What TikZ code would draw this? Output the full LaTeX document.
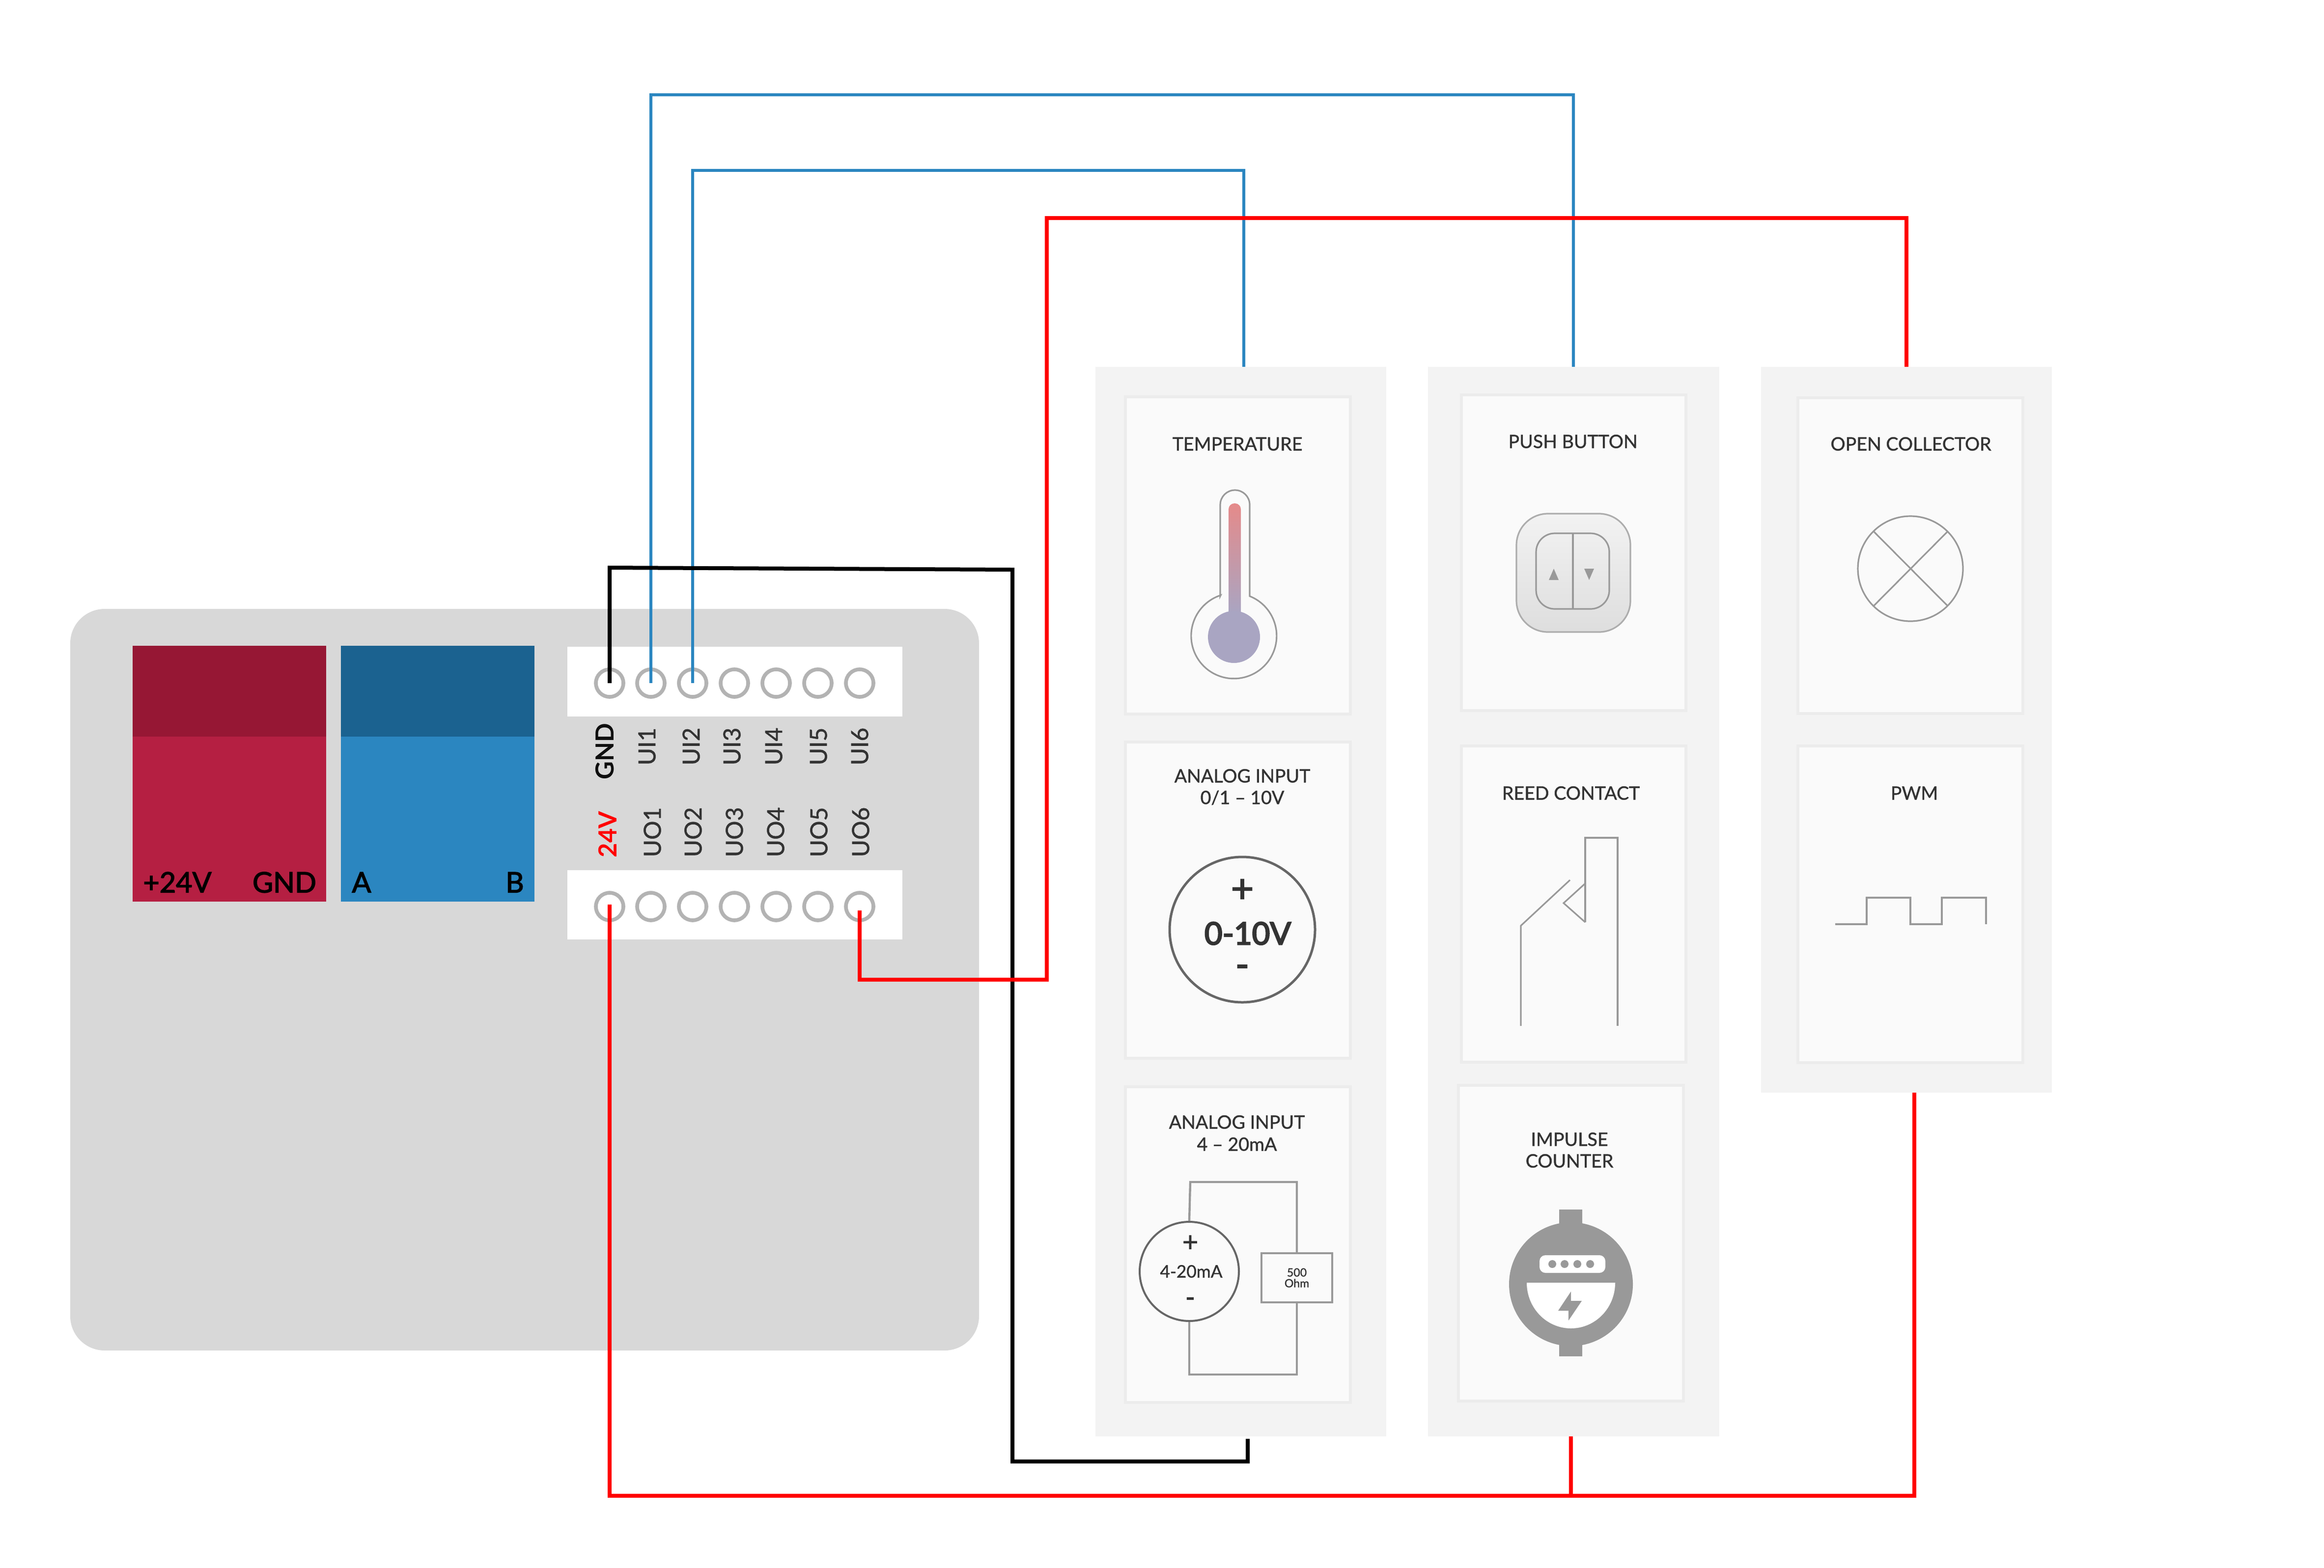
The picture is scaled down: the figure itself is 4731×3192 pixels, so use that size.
\documentclass[tikz,border=0pt]{standalone}
\usepackage{fontspec}
\setmainfont{Lato}
\newfontfamily\medf[FakeBold=1.1]{Lato}
\newfontfamily\hvyf[FakeBold=2.6]{Lato}
\newfontfamily\xhvyf[FakeBold=4]{Lato}
\definecolor{panelgray}{HTML}{D8D8D8}
\definecolor{colgray}{HTML}{F3F3F3}
\definecolor{cardfill}{HTML}{FAFAFA}
\definecolor{cardline}{HTML}{ECECEC}
\definecolor{reddark}{HTML}{961734}
\definecolor{redmain}{HTML}{B51F42}
\definecolor{bluedark}{HTML}{1B6290}
\definecolor{bluemain}{HTML}{2B86C0}
\definecolor{ringgray}{HTML}{B3B3B3}
\definecolor{txt}{HTML}{333333}
\definecolor{ico}{HTML}{999999}
\definecolor{icod}{HTML}{666666}
\definecolor{wred}{HTML}{FF0000}
\definecolor{thermtop}{HTML}{E58A8A}
\definecolor{thermbot}{HTML}{A9A5C2}
\tikzset{
  bxs/.style={inner sep=0pt,outer sep=0pt,rectangle},
  terminal/.style={circle,draw=ringgray,line width=1.9pt,minimum size=14pt,inner sep=0pt,fill=white},
  cardbox/.style={bxs,draw=cardline,fill=cardfill,line width=1.5pt},
  title/.style={font=\medf\fontsize{9.4pt}{11pt}\selectfont,text=txt,inner sep=0pt,text height=6.7pt,text depth=0pt},
  blocktext/.style={font=\hvyf\fontsize{14.4pt}{16pt}\selectfont,text=black,inner sep=0pt,text height=10.2pt,text depth=0pt},
  pinlabel/.style={font=\medf\fontsize{12pt}{14pt}\selectfont,text=txt,inner sep=0pt,text height=8.6pt,text depth=0pt,rotate=90,anchor=west},
  pinbold/.style={font=\bfseries\fontsize{12.7pt}{14pt}\selectfont,inner sep=0pt,text height=9.1pt,text depth=0pt,rotate=90,anchor=west},
  wire/.style={line width=2pt,line join=miter},
  icon/.style={draw=ico,line width=0.8pt},
  iconthick/.style={draw=ico,line width=1.1pt},
}
\newcommand\bx[6]{\node[#1,anchor=north west,minimum width={(#4-#2)*0.25pt},minimum height={(#5-#3)*0.25pt}] (#6) at (#2,#3) {};}
\newcommand\card[5]{\node[cardbox,anchor=north west,minimum width={(#3-#1-6)*0.25pt},minimum height={(#4-#2-6)*0.25pt}] (#5) at ({#1+3},{#2+3}) {};}
\begin{document}
\begin{tikzpicture}[x=0.25pt,y=-0.25pt]
\useasboundingbox (0,0) rectangle (4731,3192);
\fill[white] (0,0) rectangle (4731,3192);
% device
\bx{bxs,fill=panelgray,rounded corners=17.5pt}{143}{1240}{1993}{2750}{device}
\bx{bxs,fill=redmain}{270}{1315}{664}{1836}{redblock}
\bx{bxs,fill=reddark}{270}{1315}{664}{1500}{redcap}
\bx{bxs,fill=bluemain}{694}{1315}{1088}{1836}{blueblock}
\bx{bxs,fill=bluedark}{694}{1315}{1088}{1500}{bluecap}
\node[blocktext] (tp24) at (361,1797) {+24V};
\node[blocktext] (tgnd) at (579,1797) {GND};
\node[blocktext] (ta) at (736,1797) {A};
\node[blocktext] (tb) at (1048,1797) {B};
\bx{bxs,fill=white}{1155}{1317}{1837}{1459}{stripup}
\bx{bxs,fill=white}{1155}{1772}{1837}{1913}{stripdown}
% terminals
\node[terminal] (gnd) at (1241,1391) {};
\node[terminal] (ui1) at (1325,1391) {};
\node[terminal] (ui2) at (1410,1391) {};
\node[terminal] (ui3) at (1495,1391) {};
\node[terminal] (ui4) at (1580,1391) {};
\node[terminal] (ui5) at (1665,1391) {};
\node[terminal] (ui6) at (1750,1391) {};
\node[terminal] (v24) at (1241,1846) {};
\node[terminal] (uo1) at (1325,1846) {};
\node[terminal] (uo2) at (1410,1846) {};
\node[terminal] (uo3) at (1495,1846) {};
\node[terminal] (uo4) at (1580,1846) {};
\node[terminal] (uo5) at (1665,1846) {};
\node[terminal] (uo6) at (1750,1846) {};
% pin labels
\node[pinbold,text=txt!30!black] (lgnd) at (1231,1588) {GND};
\node[pinlabel] (lui1) at (1317,1559) {UI1};
\node[pinlabel] (lui2) at (1407,1559) {UI2};
\node[pinlabel] (lui3) at (1490,1559) {UI3};
\node[pinlabel] (lui4) at (1575,1559) {UI4};
\node[pinlabel] (lui5) at (1666,1559) {UI5};
\node[pinlabel] (lui6) at (1750,1559) {UI6};
\node[pinbold,text=wred] (l24) at (1237,1747) {24V};
\node[pinlabel] (luo1) at (1328,1746) {UO1};
\node[pinlabel] (luo2) at (1411,1746) {UO2};
\node[pinlabel] (luo3) at (1495,1746) {UO3};
\node[pinlabel] (luo4) at (1579,1746) {UO4};
\node[pinlabel] (luo5) at (1667,1746) {UO5};
\node[pinlabel] (luo6) at (1752,1746) {UO6};
% wire coordinates
\coordinate (k1) at (1241,1156);
\coordinate (k2) at (2061,1160);
\coordinate (k3) at (2061,2976);
\coordinate (k4) at (2540,2976);
\coordinate (k5) at (2540,2930);
\coordinate (b1a) at (1325,193);
\coordinate (b1b) at (3203,193);
\coordinate (b1c) at (3203,750);
\coordinate (b2a) at (1410,347);
\coordinate (b2b) at (2532,347);
\coordinate (b2c) at (2532,750);
\coordinate (r1) at (1750,1995);
\coordinate (r2) at (2131,1995);
\coordinate (r3) at (2131,444);
\coordinate (r4) at (3881,444);
\coordinate (r5) at (3881,750);
\coordinate (s1) at (1241,3046);
\coordinate (s2) at (3897,3046);
\coordinate (s3) at (3897,2220);
\coordinate (s4) at (3198,3046);
\coordinate (s5) at (3198,2920);
% wires
\draw[wire,bluemain,line width=1.5pt] (ui1.center) -- (b1a) -- (b1b) -- (b1c);
\draw[wire,bluemain,line width=1.5pt] (ui2.center) -- (b2a) -- (b2b) -- (b2c);
\draw[wire,black] (gnd.center) -- (k1) -- (k2) -- (k3) -- (k4) -- (k5);
\draw[wire,wred] ([yshift=-2pt]uo6.center) -- (r1) -- (r2) -- (r3) -- (r4) -- (r5);
\draw[wire,wred] ([yshift=1pt]v24.center) -- (s1) -- (s2) -- (s3);
\draw[wire,wred] (s4) -- (s5);
% columns
\bx{bxs,fill=colgray}{2230}{747}{2822}{2925}{col1}
\bx{bxs,fill=colgray}{2907}{747}{3500}{2925}{col2}
\bx{bxs,fill=colgray}{3585}{747}{4177}{2225}{col3}
% cards
\card{2288}{805}{2752}{1457}{ctemp}
\card{2288}{1508}{2752}{2158}{cai}
\card{2288}{2210}{2752}{2859}{cma}
\card{2972}{801}{3435}{1450}{cpush}
\card{2972}{1516}{3435}{2166}{creed}
\card{2966}{2207}{3430}{2856}{cimp}
\card{3657}{807}{4121}{1456}{copen}
\card{3657}{1516}{4121}{2167}{cpwm}
% titles
\node[title] (t1) at (2519,904) {TEMPERATURE};
\node[title] (t2) at (2529,1580) {ANALOG INPUT};
\node[title] (t2b) at (2529,1624) {0/1 – 10V};
\node[title] (t3) at (2518,2285) {ANALOG INPUT};
\node[title] (t3b) at (2518,2330) {4 – 20mA};
\node[title] (t4) at (3202,899) {PUSH BUTTON};
\node[title] (t5) at (3198,1615) {REED CONTACT};
\node[title] (t6) at (3195,2320) {IMPULSE};
\node[title] (t6b) at (3195,2364) {COUNTER};
\node[title] (t7) at (3890,904) {OPEN COLLECTOR};
\node[title] (t8) at (3897,1615) {PWM};
% thermometer
\shade[top color=thermtop,bottom color=thermbot] (2501,1250) [rounded corners=3pt] -- (2501,1025) -- (2526,1025) [sharp corners] -- (2526,1250) -- cycle;
\fill[thermbot] (2512,1297) circle[radius=53];
\draw[icon] (2484,1214) [rounded corners=7.5pt] -- (2484,998) -- (2544,998) [sharp corners] -- (2544,1214) arc[start angle=-68.3,end angle=252,radius=87] -- cycle;
% 0-10V
\node[circle,draw=icod,line width=1.25pt,minimum size=74pt,inner sep=0pt] (vsrc) at (2529,1893) {};
\node[inner sep=0pt,text=txt,font=\hvyf\fontsize{20pt}{22pt}\selectfont] (vp) at (2529,1814) {+};
\node[inner sep=0pt,text=txt,font=\xhvyf\fontsize{15.8pt}{18pt}\selectfont,text height=11.2pt,text depth=0pt] (vt) at (2540,1901) {0-10V};
\node[inner sep=0pt,text=txt,font=\hvyf\fontsize{19pt}{22pt}\selectfont] (vm) at (2529,1978) {-};
% 4-20 mA
\node[circle,draw=icod,line width=1pt,minimum size=50.5pt,inner sep=0pt] (isrc) at (2421,2589) {};
\node[inner sep=0pt,text=txt,font=\medf\fontsize{14pt}{16pt}\selectfont] (ip) at (2423,2532) {+};
\node[inner sep=0pt,text=txt,font=\medf\fontsize{8.8pt}{10pt}\selectfont,text height=6.3pt,text depth=0pt] (it) at (2425,2589) {4-20mA};
\node[inner sep=0pt,text=txt,font=\hvyf\fontsize{13pt}{15pt}\selectfont] (im) at (2423,2651) {-};
\node[bxs,draw=ico,line width=1.1pt,minimum width=36pt,minimum height=25pt] (rbox) at (2640,2602) {};
\node[inner sep=0pt,text=txt,font=\medf\fontsize{5.8pt}{7pt}\selectfont,text height=4.2pt,text depth=0pt] (r500) at (2640,2591) {500};
\node[inner sep=0pt,text=txt,font=\medf\fontsize{5.8pt}{7pt}\selectfont,text height=4.2pt,text depth=0pt] (rohm) at (2640,2613) {Ohm};
\coordinate (i1) at (2423,2407);
\coordinate (i2) at (2640,2407);
\coordinate (i3) at (2640,2799);
\coordinate (i4) at (2421,2799);
\draw[iconthick] (isrc.north) -- (i1) -- (i2) -- (rbox.north);
\draw[iconthick] (rbox.south) -- (i3) -- (i4) -- (isrc.south);
% push button
\shade[top color=white!95!black,bottom color=black!13,draw=ico!80!white,line width=0.8pt,rounded corners=16pt] (3087,1046) rectangle (3319,1287);
\draw[icon,rounded corners=9.5pt] (3127,1086) rectangle (3276,1240);
\draw[icon] (3202,1086) -- (3202,1240);
\fill[ico] (3153,1181) -- (3163,1158) -- (3173,1181) -- cycle;
\fill[ico] (3225,1158) -- (3245,1158) -- (3235,1181) -- cycle;
% reed
\draw[icon,miter limit=2] (3096,2089) -- (3096,1885) -- (3196,1792);
\draw[icon] (3227,1799) -- (3183,1839) -- (3227,1878);
\draw[icon] (3227,1878) -- (3227,1706) -- (3293,1706) -- (3293,2089);
% impulse counter
\fill[ico] (3174,2463) rectangle (3221,2500);
\fill[ico] (3174,2730) rectangle (3221,2762);
\fill[ico] (3198,2615) circle[radius=126];
\fill[white,rounded corners=3pt] (3134,2556) rectangle (3268,2592);
\fill[ico] (3160,2574) circle[radius=8];
\fill[ico] (3185,2574) circle[radius=8];
\fill[ico] (3211,2574) circle[radius=8];
\fill[ico] (3237,2574) circle[radius=8];
\fill[white] (3108,2612) arc[start angle=180,end angle=0,x radius=90,y radius=93] -- cycle;
\fill[ico] (3198,2630) -- (3198,2649) -- (3220,2649) -- (3193,2689) -- (3193,2669) -- (3172,2669) -- cycle;
% open collector
\draw[icon] (3889,1158) circle[radius=107];
\draw[icon] (3814,1082) -- (3965,1234);
\draw[icon] (3965,1082) -- (3814,1234);
% PWM
\draw[icon] (3736,1882) -- (3800,1882) -- (3800,1828) -- (3889,1828) -- (3889,1882) -- (3953,1882) -- (3953,1828) -- (4043,1828) -- (4043,1882);
\end{tikzpicture}
\end{document}
